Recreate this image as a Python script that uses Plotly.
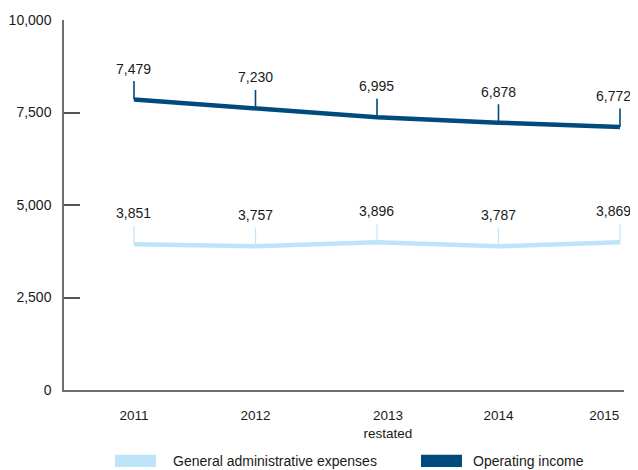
import plotly.graph_objects as go

# ---- data ----
years = ["2011", "2012", "2013", "2014", "2015"]
year_tick_labels = ["2011", "2012", "2013<br>restated", "2014", "2015"]

# line positions as drawn against the y axis
operating_income_line = [7850, 7610, 7370, 7225, 7110]
admin_expenses_line = [3940, 3885, 3990, 3885, 3990]

# values printed in the labels
operating_income_labels = [7479, 7230, 6995, 6878, 6772]
admin_expenses_labels = [3851, 3757, 3896, 3787, 3869]

y_ticks = [0, 2500, 5000, 7500, 10000]

series_names = ["General administrative expenses", "Operating income"]

# ---- styles ----
DARK = "#004b7d"
LIGHT = "#bde4f8"
LIGHT_LEADER = "#c6e8f9"
FONT = "Liberation Sans, Arial, sans-serif"
TXT = "#1a1a1a"
TICK_LABEL_SHIFT = [0, 0, 0.09, 0, -0.13]   # tick label nudges (style only)
VALUE_LABEL_XSHIFT = [0, 0, 0, 0, -6]       # keep last value label inside the view
LEADER_PX = 20
LABEL_RAISE_PX = 31

x_index = list(range(len(years)))

fig = go.Figure()

fig.add_trace(go.Scatter(x=x_index, y=admin_expenses_line, mode="lines",
                         line=dict(color=LIGHT, width=4.5), name=series_names[0],
                         showlegend=False, hoverinfo="skip"))
fig.add_trace(go.Scatter(x=x_index, y=operating_income_line, mode="lines",
                         line=dict(color=DARK, width=4.5), name=series_names[1],
                         showlegend=False, hoverinfo="skip"))

annotations = []
for line_vals, label_vals, col, w in [
    (operating_income_line, operating_income_labels, DARK, 1.6),
    (admin_expenses_line, admin_expenses_labels, LIGHT_LEADER, 1.3),
]:
    for i, (y, v) in enumerate(zip(line_vals, label_vals)):
        # leader line
        annotations.append(dict(x=i, y=y, xref="x", yref="y", text="",
                                showarrow=True, arrowhead=0, arrowwidth=w, arrowcolor=col,
                                ax=0, ay=-LEADER_PX, standoff=0))
        # value label
        annotations.append(dict(x=i, y=y, xref="x", yref="y", text=f"{v:,}",
                                showarrow=False, yshift=LABEL_RAISE_PX,
                                xshift=VALUE_LABEL_XSHIFT[i],
                                xanchor="center", yanchor="middle",
                                font=dict(family=FONT, size=14, color=TXT)))

# manual legend (rectangular swatches)
legend_items = [
    (series_names[0], LIGHT, 0.0911, 0.1643, 0.1911),
    (series_names[1], DARK, 0.6375, 0.7107, 0.7268),
]
shapes = []
for name, col, x0, x1, xt in legend_items:
    shapes.append(dict(type="rect", xref="paper", yref="paper", x0=x0, x1=x1,
                       y0=-0.208, y1=-0.175, fillcolor=col, line=dict(width=0)))
    annotations.append(dict(x=xt, y=-0.192, xref="paper", yref="paper", text=name,
                            showarrow=False, xanchor="left", yanchor="middle",
                            font=dict(family=FONT, size=14, color=TXT)))

fig.update_layout(
    width=630, height=462,
    margin=dict(l=56, r=14, t=12, b=80),
    paper_bgcolor="white", plot_bgcolor="white",
    font=dict(family=FONT, size=13.5, color=TXT),
    showlegend=False,
    annotations=annotations,
    shapes=shapes,
    xaxis=dict(type="linear", range=[-0.576, 4.033],
               tickvals=[i + s for i, s in zip(x_index, TICK_LABEL_SHIFT)],
               ticktext=year_tick_labels, showgrid=False, zeroline=False,
               showline=True, linecolor="#6f6f6f", linewidth=1.5, automargin=False,
               ticks="outside", ticklen=12, tickcolor="rgba(0,0,0,0)",
               tickfont=dict(family=FONT, size=13.5, color=TXT)),
    yaxis=dict(range=[0, 10000], tickvals=y_ticks, tickformat=",",
               showgrid=False, zeroline=False, showline=True, automargin=False,
               linecolor="#6f6f6f", linewidth=1.5,
               ticks="inside", ticklen=16, tickwidth=1.5, tickcolor="#555",
               ticklabelstandoff=8,
               tickfont=dict(family=FONT, size=14, color=TXT)),
)

fig.write_html("out.html")
